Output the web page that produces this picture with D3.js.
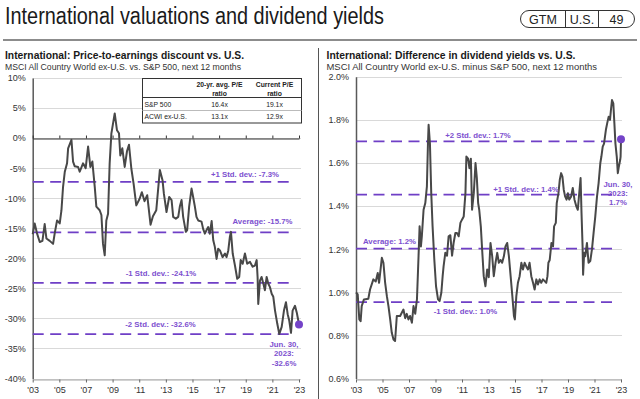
<!DOCTYPE html>
<html><head><meta charset="utf-8">
<script src="https://cdn.jsdelivr.net/npm/d3@7"></script>
<style>
html,body{margin:0;padding:0;background:#fff;}
svg{display:block;font-family:"Liberation Sans",Arial,Helvetica,sans-serif;}
</style></head>
<body>
<svg id="chart" width="640" height="399"></svg>
<script>
// ---------- DATA ----------
const yearTicks = [2003,2005,2007,2009,2011,2013,2015,2017,2019,2021,2023];

const peDates = [2003.0,2003.15,2003.33,2003.53,2003.73,2003.9,2004.03,2004.28,2004.53,2004.65,2004.83,2005.03,2005.16,2005.28,2005.41,2005.58,2005.66,2005.91,2006.03,2006.16,2006.41,2006.53,2006.78,2006.98,2007.16,2007.33,2007.48,2007.66,2007.78,2008.03,2008.16,2008.28,2008.41,2008.53,2008.66,2008.78,2008.91,2009.16,2009.33,2009.48,2009.58,2009.73,2009.91,2010.08,2010.23,2010.41,2010.58,2010.78,2011.03,2011.2,2011.4,2011.6,2011.85,2012.03,2012.28,2012.55,2012.75,2012.85,2013.05,2013.25,2013.43,2013.55,2013.75,2013.93,2014.05,2014.18,2014.3,2014.5,2014.6,2014.75,2014.93,2015.05,2015.18,2015.3,2015.43,2015.68,2015.8,2015.93,2016.06,2016.18,2016.3,2016.44,2016.56,2016.68,2016.81,2016.93,2017.06,2017.26,2017.44,2017.56,2017.69,2017.81,2017.89,2018.02,2018.19,2018.36,2018.51,2018.62,2018.77,2018.94,2019.11,2019.32,2019.52,2019.69,2019.82,2019.89,2019.94,2020.07,2020.19,2020.32,2020.44,2020.57,2020.69,2020.82,2020.95,2021.07,2021.2,2021.37,2021.52,2021.7,2021.87,2022.02,2022.15,2022.27,2022.4,2022.52,2022.7,2022.83,2022.9,2023.0];
const peValues = [-16.0,-14.2,-15.9,-17.3,-17.1,-14.3,-16.7,-17.1,-17.6,-15.9,-13.7,-14.2,-12.0,-8.1,-5.6,-4.2,-1.7,-0.3,-3.9,-4.7,-4.8,-5.6,-4.2,-5.0,-1.4,-4.8,-3.9,-8.1,-11.4,-12.0,-12.8,-17.6,-19.5,-13.7,-12.6,-4.2,0.8,4.1,1.3,0.8,-2.9,-1.7,-4.8,-2.2,-1.1,-5.1,-7.6,-11.2,-10.1,-9.0,-10.5,-9.5,-14.4,-13.0,-12.0,-5.3,-7.0,-9.2,-12.3,-9.8,-10.3,-13.1,-13.4,-13.1,-11.4,-10.3,-13.1,-15.6,-15.3,-11.4,-8.4,-9.8,-11.4,-13.1,-13.7,-13.9,-15.1,-15.9,-15.3,-14.8,-15.9,-13.8,-17.0,-18.1,-20.1,-18.4,-18.7,-19.8,-19.2,-19.8,-18.7,-16.4,-15.6,-19.2,-21.2,-23.4,-23.1,-20.3,-20.9,-19.2,-20.9,-20.6,-21.4,-21.2,-20.3,-23.1,-27.6,-23.7,-23.1,-24.2,-25.3,-23.1,-24.2,-24.8,-25.9,-26.4,-28.7,-30.9,-32.6,-31.4,-28.7,-27.3,-29.3,-30.4,-32.4,-28.7,-27.9,-29.0,-29.8,-31.0];

const peTicks = [10,5,0,-5,-10,-15,-20,-25,-30,-35,-40];
const peRefLevels = [-7.3,-15.7,-24.1,-32.6];
const peRefLabels = ["+1 Std. dev.: -7.3%","Average: -15.7%","-1 Std. dev.: -24.1%","-2 Std. dev.: -32.6%"];
const peLastLabel = ["Jun. 30,","2023:","-32.6%"];

const tableHeader = [["","20-yr. avg. P/E","Current P/E"],["","ratio","ratio"]];
const tableRows = [["S&P 500","16.4x","19.1x"],["ACWI ex-U.S.","13.1x","12.9x"]];

const dyDates = [2003.0,2003.13,2003.25,2003.35,2003.43,2003.6,2003.93,2004.06,2004.31,2004.49,2004.64,2004.74,2004.95,2005.07,2005.2,2005.33,2005.45,2005.58,2005.7,2005.83,2005.95,2006.08,2006.33,2006.58,2006.71,2006.83,2006.96,2007.08,2007.22,2007.34,2007.47,2007.6,2007.72,2007.8,2007.9,2007.97,2008.1,2008.23,2008.35,2008.43,2008.48,2008.58,2008.68,2008.78,2008.91,2009.04,2009.19,2009.31,2009.44,2009.54,2009.61,2009.74,2009.87,2009.99,2010.12,2010.25,2010.37,2010.5,2010.62,2010.75,2010.88,2011.0,2011.13,2011.26,2011.33,2011.46,2011.56,2011.67,2011.76,2011.89,2012.02,2012.12,2012.22,2012.3,2012.42,2012.52,2012.64,2012.77,2012.9,2013.02,2013.15,2013.28,2013.4,2013.53,2013.66,2013.78,2013.91,2014.03,2014.16,2014.28,2014.41,2014.54,2014.67,2014.8,2014.92,2014.99,2015.1,2015.22,2015.35,2015.48,2015.6,2015.73,2015.85,2015.98,2016.1,2016.23,2016.36,2016.48,2016.61,2016.73,2016.86,2016.98,2017.11,2017.24,2017.36,2017.45,2017.52,2017.62,2017.75,2017.87,2017.95,2018.08,2018.15,2018.28,2018.38,2018.48,2018.58,2018.68,2018.78,2018.89,2018.99,2019.09,2019.24,2019.36,2019.49,2019.62,2019.74,2019.87,2019.95,2020.02,2020.1,2020.14,2020.22,2020.3,2020.43,2020.55,2020.68,2020.81,2020.93,2021.06,2021.19,2021.31,2021.44,2021.52,2021.62,2021.72,2021.86,2021.96,2022.07,2022.17,2022.24,2022.32,2022.42,2022.5,2022.58,2022.68,2022.76,2022.84,2022.94,2022.97,2023.0];
const dyValues = [1.00,0.99,0.874,0.866,0.936,0.967,0.97,1.013,1.06,1.05,1.09,1.044,1.16,1.137,1.044,0.982,0.936,0.874,0.812,0.781,0.774,0.89,0.89,0.92,0.88,0.90,0.874,0.89,0.859,0.936,0.90,0.967,1.167,1.306,1.213,1.26,1.383,1.414,1.49,1.69,1.777,1.69,1.46,1.306,1.152,1.028,0.967,0.959,0.998,1.075,1.12,1.183,1.17,1.26,1.265,1.17,1.23,1.275,1.275,1.26,1.322,1.337,1.352,1.46,1.63,1.62,1.576,1.62,1.383,1.46,1.6,1.53,1.414,1.383,1.306,1.198,1.075,1.028,1.106,1.07,1.229,1.167,1.075,1.137,1.183,1.137,1.15,1.137,1.167,1.213,1.229,1.167,1.075,0.982,0.89,0.874,0.982,1.044,1.075,1.137,1.106,1.137,1.12,1.106,1.137,1.075,1.044,1.013,1.06,1.036,1.06,1.044,1.06,1.052,1.044,1.075,1.137,1.15,1.229,1.213,1.306,1.322,1.414,1.46,1.522,1.553,1.537,1.476,1.445,1.43,1.46,1.43,1.445,1.484,1.43,1.40,1.383,1.476,1.53,1.368,1.213,1.082,1.183,1.167,1.229,1.137,1.145,1.20,1.275,1.352,1.445,1.507,1.60,1.63,1.676,1.69,1.754,1.785,1.815,1.80,1.846,1.892,1.877,1.785,1.69,1.63,1.553,1.584,1.615,1.63,1.71];

const dyTicks = [2.0,1.8,1.6,1.4,1.2,1.0,0.8,0.6];
const dyRefLevels = [1.70,1.453,1.203,0.954];
const dyRefLabels = ["+2 Std. dev.: 1.7%","+1 Std. dev.: 1.4%","Average: 1.2%","-1 Std. dev.: 1.0%"];
const dyLastLabel = ["Jun. 30,","2023:","1.7%"];

// ---------- STYLE ----------
const PURPLE = "#6f3fc6", PURPLE_TXT = "#7d50cf", LINE = "#484848", GRID = "#d9d9d9", TXT = "#333";

const svg = d3.select("#chart");

// Header
svg.append("text").attr("x",5).attr("y",24).attr("font-size",23).attr("fill","#1a1a1a")
  .attr("textLength",379).attr("lengthAdjust","spacingAndGlyphs")
  .text("International valuations and dividend yields");
svg.append("line").attr("x1",3).attr("x2",637).attr("y1",40).attr("y2",40)
  .attr("stroke","#8c8c8c").attr("stroke-width",2);
// badge
const badge = svg.append("g");
badge.append("rect").attr("x",520.5).attr("y",10.5).attr("width",114).attr("height",17).attr("rx",8.5)
  .attr("fill","none").attr("stroke","#333").attr("stroke-width",1);
[565.5,598.5].forEach(x=>badge.append("line").attr("x1",x).attr("x2",x).attr("y1",10.5).attr("y2",27.5).attr("stroke","#333"));
[["GTM",543],["U.S.",582],["49",616.5]].forEach(([t,x])=>badge.append("text").attr("x",x).attr("y",23.5)
  .attr("text-anchor","middle").attr("font-size",12.5).attr("fill","#222").text(t));

// divider
svg.append("line").attr("x1",318.5).attr("x2",318.5).attr("y1",48).attr("y2",399).attr("stroke","#555").attr("stroke-width",1);

// subtitles
function subtitle(x, t1, w1, t2, w2){
  svg.append("text").attr("x",x).attr("y",59).attr("font-size",11.5).attr("font-weight","bold").attr("fill","#1a1a1a")
    .attr("textLength",w1).attr("lengthAdjust","spacingAndGlyphs").text(t1);
  svg.append("text").attr("x",x).attr("y",69.5).attr("font-size",8.6).attr("fill","#333")
    .attr("textLength",w2).attr("lengthAdjust","spacingAndGlyphs").text(t2);
}
subtitle(5,"International: Price-to-earnings discount vs. U.S.",239,"MSCI All Country World ex-U.S. vs. S&P 500, next 12 months",236);
subtitle(326.5,"International: Difference in dividend yields vs. U.S.",249,"MSCI All Country World ex-U.S. minus S&P 500, next 12 months",270.5);

const yearFmt = d => "'" + String(d).slice(2);

function panel(opts){
  const {x, y, ticks, fmt, dates, values, refLevels, refLabels, refPos, lastLabel, lastPos, gridRight, zeroLine} = opts;
  const g = svg.append("g");
  // gridlines
  g.selectAll("line.grid").data(ticks).join("line").attr("class","grid")
    .attr("x1",x.range()[0]).attr("x2",gridRight).attr("y1",d=>Math.round(y(d))+0.5).attr("y2",d=>Math.round(y(d))+0.5)
    .attr("stroke",GRID).attr("stroke-width",1);
  // y axis labels + line
  const ya = g.append("g").attr("transform",`translate(${x.range()[0]},0)`)
    .call(d3.axisLeft(y).tickValues(ticks).tickFormat(fmt).tickSize(0).tickPadding(7));
  ya.select(".domain").attr("stroke","#595959").attr("stroke-width",1.5);
  ya.selectAll("text").attr("font-size",9).attr("fill",TXT).attr("font-family","Liberation Sans, Arial, sans-serif");
  // bottom axis
  const xa = g.append("g").attr("transform",`translate(0,${Math.round(y.range()[0])+0.5})`)
    .call(d3.axisBottom(x).tickValues(yearTicks).tickFormat(yearFmt).tickSize(3).tickPadding(4).tickSizeOuter(0));
  xa.select(".domain").attr("stroke","#a6a6a6");
  xa.selectAll(".tick line").attr("stroke","#666");
  xa.selectAll("text").attr("font-size",9).attr("fill",TXT).attr("font-family","Liberation Sans, Arial, sans-serif");
  if (zeroLine){
    const za = g.append("g").attr("transform",`translate(0,${Math.round(y(0))+0.5})`)
      .call(d3.axisTop(x).tickValues(yearTicks).tickFormat("").tickSize(3).tickSizeOuter(0));
    za.select(".domain").attr("stroke","#333").attr("stroke-width",1.2);
    za.selectAll(".tick line").attr("stroke","#333");
  }
  // reference dashed lines
  g.selectAll("line.ref").data(refLevels).join("line").attr("class","ref")
    .attr("x1",x.range()[0]).attr("x2",opts.refRight).attr("y1",d=>y(d)).attr("y2",d=>y(d))
    .attr("stroke",PURPLE).attr("stroke-width",1.8).attr("stroke-dasharray","11,6.5");
  // data line
  const pts = dates.map((d,i)=>[d, values[i]]);
  g.append("path").datum(pts).attr("fill","none").attr("stroke",LINE).attr("stroke-width",2)
    .attr("stroke-linejoin","round")
    .attr("d", d3.line().x(d=>x(d[0])).y(d=>y(d[1])));
  // ref labels
  refLabels.forEach((t,i)=>{
    g.append("text").attr("x",refPos[i][0]).attr("y",y(refLevels[i])+refPos[i][1])
      .attr("text-anchor","middle").attr("font-size",7.8).attr("font-weight","bold").attr("fill",PURPLE_TXT).text(t);
  });
  // last point
  const last = pts[pts.length-1];
  g.append("circle").attr("cx",x(last[0])).attr("cy",y(last[1])).attr("r",4).attr("fill","#7443c8");
  lastLabel.forEach((t,i)=>{
    g.append("text").attr("x",lastPos[0]).attr("y",lastPos[1]+i*9.3).attr("text-anchor","middle")
      .attr("font-size",7.8).attr("font-weight","bold").attr("fill",PURPLE_TXT).text(t);
  });
  return g;
}

// Left panel
const xL = d3.scaleLinear().domain([2003,2023]).range([32.7,299]);
const yL = d3.scaleLinear().domain([-40,10]).range([378.5,78]);
panel({x:xL, y:yL, ticks:peTicks, fmt:d=>d+"%", dates:peDates, values:peValues,
  refLevels:peRefLevels, refLabels:peRefLabels,
  refPos:[[245,-4.5],[262.5,-8],[161,-7],[160.5,-7.5]],
  lastLabel:peLastLabel, lastPos:[284,347], gridRight:301, zeroLine:true, refRight:295});

// table
const tb = svg.append("g");
tb.append("rect").attr("x",142.5).attr("y",78.5).attr("width",159).attr("height",44.5).attr("fill","#fff").attr("stroke","#333").attr("stroke-width",1);
tb.append("line").attr("x1",142.5).attr("x2",301.5).attr("y1",97.5).attr("y2",97.5).attr("stroke","#333");
tb.append("line").attr("x1",142.5).attr("x2",301.5).attr("y1",110.5).attr("y2",110.5).attr("stroke","#bbb");
const colX = [144.5,219.5,274.5];
tableHeader.forEach((row,r)=>row.forEach((t,c)=>{
  if(!t) return;
  tb.append("text").attr("x",colX[c]).attr("y",87+r*9.2).attr("text-anchor","middle").attr("font-size",6.8)
    .attr("font-weight","bold").attr("fill","#222").text(t);
}));
tableRows.forEach((row,r)=>row.forEach((t,c)=>{
  tb.append("text").attr("x",colX[c]).attr("y",107+r*12.3).attr("text-anchor",c===0?"start":"middle")
    .attr("font-size",6.8).attr("fill","#222").text(t);
}));

// Right panel
const xR = d3.scaleLinear().domain([2003,2023]).range([356,621]);
const yR = d3.scaleLinear().domain([0.6,2.0]).range([378.5,76.8]);
panel({x:xR, y:yR, ticks:dyTicks, fmt:d=>d.toFixed(1)+"%", dates:dyDates, values:dyValues,
  refLevels:dyRefLevels, refLabels:dyRefLabels,
  refPos:[[478,-3.5],[526,-2.5],[389.5,-4.5],[465.5,11.5]],
  lastLabel:dyLastLabel, lastPos:[618,186.5], gridRight:622, zeroLine:false, refRight:618});
</script>
</body></html>
